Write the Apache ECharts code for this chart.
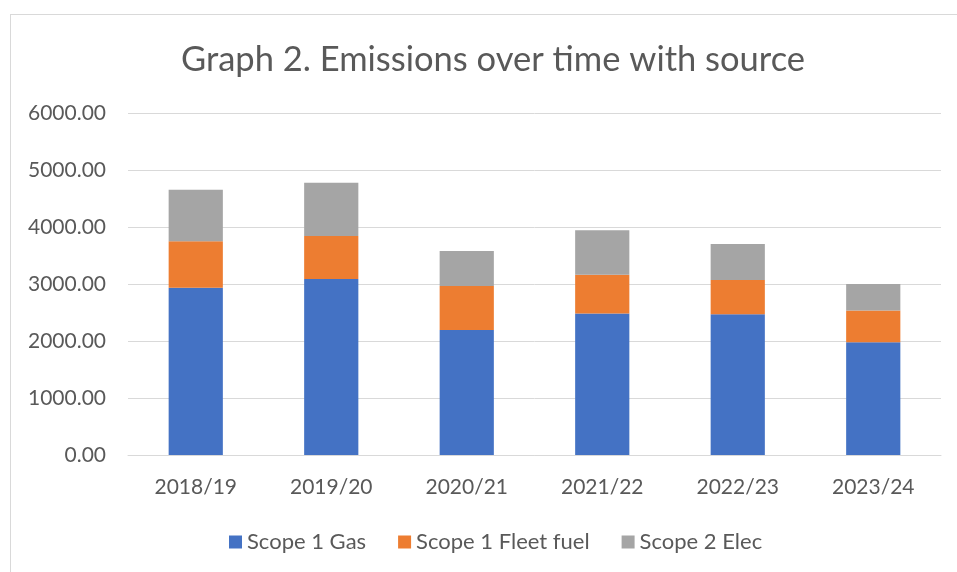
<!DOCTYPE html>
<html>
<head>
    <meta charset="utf-8">
    <title>Graph 2</title>
    <script src="https://cdn.jsdelivr.net/npm/echarts@6/dist/echarts.min.js"></script>
    <style>
        html, body { margin: 0; padding: 0; background: #fff; overflow: hidden; }
        #frame { position: absolute; left: 10px; top: 14px; width: 1000px; height: 600px;
                 border-left: 1px solid #d9d9d9; border-top: 1px solid #d9d9d9; }
        #container { position: absolute; left: 0; top: 0; width: 957px; height: 572px; }
    </style>
</head>
<body>
    <div id="frame"></div>
    <div id="container"></div>
    <script type="text/javascript">
        // years on the x axis
        var years = ['2018/19', '2019/20', '2020/21', '2021/22', '2022/23', '2023/24'];
        // tCO2e by source
        var gas = [2935, 3087, 2192, 2484, 2470, 1977];
        var fleetFuel = [815, 756, 773, 678, 600, 558];
        var elec = [903, 932, 616, 780, 633, 465];

        var font = 'Lato, "Open Sans", sans-serif';
        var myChart = echarts.init(document.getElementById('container'));

        function bar(name, data, color) {
            return {
                name: name,
                type: 'bar',
                stack: 'total',
                barWidth: '40%',
                data: data,
                itemStyle: { color: color },
                emphasis: { disabled: true }
            };
        }

        myChart.setOption({
            animation: false,
            textStyle: { fontFamily: font },
            title: {
                text: 'Graph 2. Emissions over time with source',
                left: 176,
                top: 37,
                textStyle: { fontFamily: font, fontSize: 34.5, fontWeight: 'normal', color: '#595959' }
            },
            legend: {
                bottom: 14,
                left: 224,
                itemWidth: 13,
                itemHeight: 13,
                itemGap: 32,
                icon: 'rect',
                textStyle: { fontFamily: font, fontSize: 22, color: '#595959' },
                data: ['Scope 1 Gas', 'Scope 1 Fleet fuel', 'Scope 2 Elec']
            },
            grid: { left: 128, right: 16, top: 113, bottom: 117 },
            xAxis: {
                type: 'category',
                data: years,
                axisLine: { lineStyle: { color: '#d9d9d9', width: 1 } },
                axisTick: { show: false },
                axisLabel: { fontFamily: font, fontSize: 21, color: '#595959', margin: 22 }
            },
            yAxis: {
                type: 'value',
                min: 0,
                max: 6000,
                interval: 1000,
                axisLine: { show: false },
                axisTick: { show: false },
                splitLine: { lineStyle: { color: '#d9d9d9', width: 1 } },
                axisLabel: {
                    fontFamily: font, fontSize: 21, color: '#595959', margin: 22,
                    formatter: function (v) { return v.toFixed(2); }
                }
            },
            series: [
                bar('Scope 1 Gas', gas, '#4472c4'),
                bar('Scope 1 Fleet fuel', fleetFuel, '#ed7d31'),
                bar('Scope 2 Elec', elec, '#a5a5a5')
            ]
        });
    </script>
</body>
</html>
